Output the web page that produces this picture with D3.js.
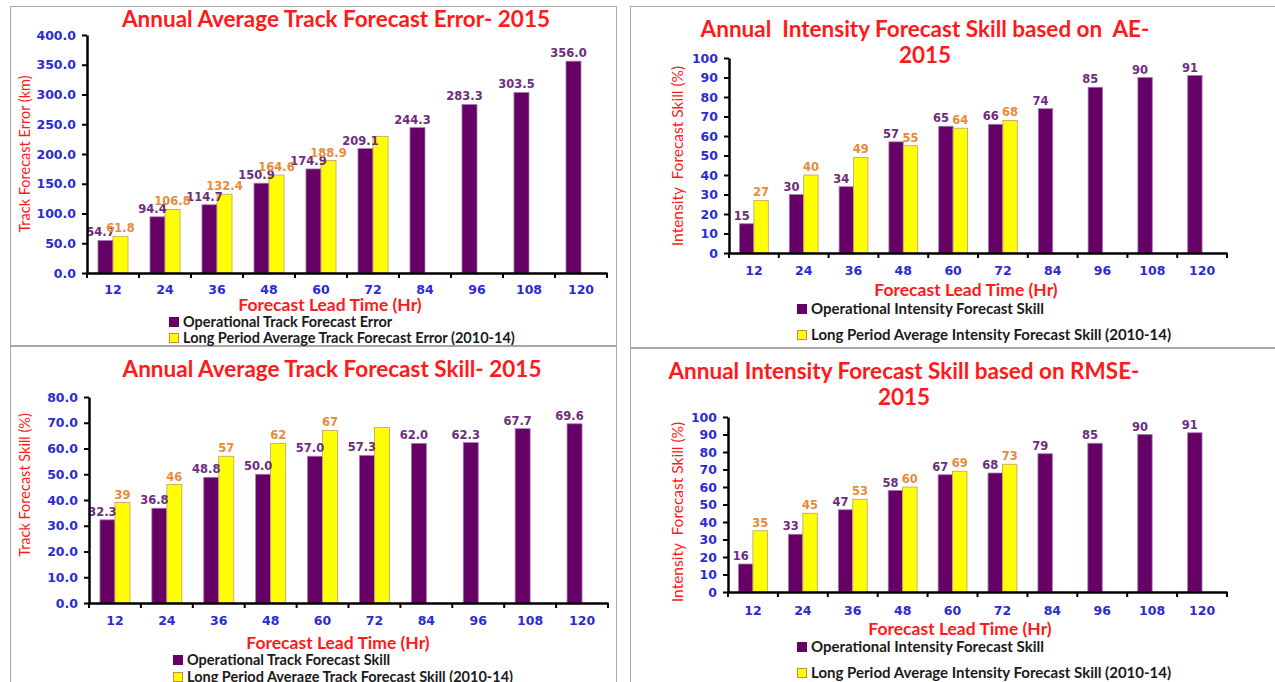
<!doctype html>
<html lang="en">
  <head>
    <meta charset="utf-8">
    <title>Cyclone forecast verification 2015</title>
    <style>
    body { margin: 0; background: #fff; }
    svg { display: block; }
    .axis path, .axis line { stroke: #000; }
    </style>
  </head>
  <body>
    <div id="content"></div>
    <script src="https://d3js.org/d3.v7.min.js"></script>
    <script type="text/javascript">
    var w = 1275;
    var h = 682;

    // lead times (hr)
    var leadTimes = ['12', '24', '36', '48', '60', '72', '84', '96', '108', '120'];

    // track forecast error (km)
    var errOp = [54.7, 94.4, 114.7, 150.9, 174.9, 209.1, 244.3, 283.3, 303.5, 356.0];
    var errLpa = [61.8, 106.8, 132.4, 164.6, 188.9, 229.7];
    var errLpaText = ['61.8', '106.8', '132.4', '164.6', '188.9', ''];
    var errTicks = [0, 50, 100, 150, 200, 250, 300, 350, 400];

    // intensity skill based on AE (%)
    var aeOp = [15, 30, 34, 57, 65, 66, 74, 85, 90, 91];
    var aeLpa = [27, 40, 49, 55, 64, 68];
    var aeLpaText = ['27', '40', '49', '55', '64', '68'];
    var pctTicks = [0, 10, 20, 30, 40, 50, 60, 70, 80, 90, 100];

    // track forecast skill (%)
    var tsOp = [32.3, 36.8, 48.8, 50.0, 57.0, 57.3, 62.0, 62.3, 67.7, 69.6];
    var tsLpa = [39, 46, 57, 62, 67, 68.2];
    var tsLpaText = ['39', '46', '57', '62', '67', ''];
    var tsTicks = [0, 10, 20, 30, 40, 50, 60, 70, 80];

    // intensity skill based on RMSE (%)
    var rmseOp = [16, 33, 47, 58, 67, 68, 79, 85, 90, 91];
    var rmseLpa = [35, 45, 53, 60, 69, 73];
    var rmseLpaText = ['35', '45', '53', '60', '69', '73'];

    var purple = '#660066';
    var yellow = '#ffff00';
    var red = '#ff1a1a';
    var blue = '#2b2bd6';
    var titleFont = 'Lato, "Open Sans", sans-serif';
    var numFont = '"DejaVu Sans", Verdana, sans-serif';

    var svg = d3.select('#content')
                .append('svg')
                .attr('width', w)
                .attr('height', h);

    // panel frames
    var frames = [
      {x: 10.5, y: 6.5, w: 606, h: 339},
      {x: 630.5, y: 6.5, w: 660, h: 341},
      {x: 10.5, y: 346.5, w: 606, h: 350},
      {x: 630.5, y: 348.5, w: 660, h: 350}
    ];
    svg.selectAll('rect.frame')
      .data(frames)
      .enter()
      .append('rect')
      .attr('class', 'frame')
      .attr('x', d => d.x)
      .attr('y', d => d.y)
      .attr('width', d => d.w)
      .attr('height', d => d.h)
      .attr('fill', 'none')
      .attr('stroke', '#a6a6a6');

    function panel(o) {
      var g = svg.append('g');

      var xScale = d3.scaleBand()
                     .domain(leadTimes)
                     .range([o.left, o.right]);

      var yScale = d3.scaleLinear()
                     .domain(o.domain)
                     .range([o.bottom, o.top]);

      var sub = d3.scaleBand()
                  .domain(['op', 'lpa'])
                  .range([0, xScale.bandwidth()])
                  .paddingOuter(0.73);

      // title
      o.title.forEach((t, i) => {
        g.append('text')
          .attr('x', o.titleX)
          .attr('y', o.titleY + i * 26)
          .attr('text-anchor', 'middle')
          .style('font-family', titleFont)
          .style('font-weight', 'bold')
          .style('font-size', '22.5px')
          .style('fill', red)
          .style('white-space', 'pre')
          .text(t);
      });

      // bars
      var opData = o.op.map((v, i) => ({c: leadTimes[i], v: v}));
      var lpaData = o.lpa.map((v, i) => ({c: leadTimes[i], v: v, t: o.lpaText[i]}));

      g.selectAll('rect.op')
        .data(opData)
        .enter()
        .append('rect')
        .attr('class', 'op')
        .attr('x', d => xScale(d.c) + sub('op'))
        .attr('y', d => yScale(d.v))
        .attr('width', sub.bandwidth())
        .attr('height', d => yScale(0) - yScale(d.v))
        .attr('fill', purple)
        .attr('stroke', '#a37fb0')
        .attr('stroke-width', 0.8);

      g.selectAll('rect.lpa')
        .data(lpaData)
        .enter()
        .append('rect')
        .attr('class', 'lpa')
        .attr('x', d => xScale(d.c) + sub('lpa'))
        .attr('y', d => yScale(d.v))
        .attr('width', sub.bandwidth())
        .attr('height', d => yScale(0) - yScale(d.v))
        .attr('fill', yellow)
        .attr('stroke', '#c49a6c')
        .attr('stroke-width', 0.8);

      // value labels
      g.selectAll('text.opv')
        .data(opData)
        .enter()
        .append('text')
        .attr('class', 'opv')
        .attr('x', d => xScale(d.c) + sub('op') + sub.bandwidth() / 2 - 5)
        .attr('y', d => yScale(d.v) - 4)
        .attr('text-anchor', 'middle')
        .style('font-family', numFont)
        .style('font-weight', 'bold')
        .style('font-size', '11.5px')
        .style('fill', '#6e2c7c')
        .text(d => o.opFormat(d.v));

      g.selectAll('text.lpav')
        .data(lpaData)
        .enter()
        .append('text')
        .attr('class', 'lpav')
        .attr('x', d => xScale(d.c) + sub('lpa') + sub.bandwidth() / 2)
        .attr('y', d => yScale(d.v) - 4)
        .attr('text-anchor', 'middle')
        .style('font-family', numFont)
        .style('font-weight', 'bold')
        .style('font-size', '11.5px')
        .style('fill', '#ea8a3a')
        .text(d => d.t);

      // y axis
      var yAxis = d3.axisLeft(yScale)
                    .tickValues(o.ticks)
                    .tickSize(5)
                    .tickSizeOuter(0)
                    .tickPadding(6)
                    .tickFormat(o.tickFormat);
      var ya = g.append('g')
        .attr('class', 'axis')
        .attr('transform', `translate(${o.left}, 0)`)
        .call(yAxis);
      ya.select('.domain').attr('stroke-width', 2.5);
      ya.selectAll('.tick line').attr('stroke-width', 2);
      ya.selectAll('text')
        .style('font-family', numFont)
        .style('font-weight', 'bold')
        .style('font-size', '12.5px')
        .style('fill', blue);

      // x axis: labels centred, ticks on category boundaries
      var xAxis = d3.axisBottom(xScale)
                    .tickSize(0)
                    .tickSizeOuter(0)
                    .tickPadding(o.xPad);
      var xa = g.append('g')
        .attr('class', 'axis')
        .attr('transform', `translate(0, ${o.bottom})`)
        .call(xAxis);
      xa.select('.domain').attr('stroke-width', 2.5);
      xa.selectAll('text')
        .style('font-family', numFont)
        .style('font-weight', 'bold')
        .style('font-size', '12.5px')
        .style('fill', blue);
      xa.selectAll('line.edge')
        .data(leadTimes.map(c => xScale(c)).concat([xScale.range()[1]]))
        .enter()
        .append('line')
        .attr('class', 'edge')
        .attr('x1', d => d)
        .attr('x2', d => d)
        .attr('y1', 0)
        .attr('y2', 5)
        .attr('stroke', '#000')
        .attr('stroke-width', 2);

      // axis titles
      g.append('text')
        .attr('x', o.xTitleX)
        .attr('y', o.xTitleY)
        .attr('text-anchor', 'middle')
        .style('font-family', titleFont)
        .style('font-weight', 'bold')
        .style('font-size', '17.5px')
        .style('fill', red)
        .text('Forecast Lead Time (Hr)');

      g.append('text')
        .attr('transform', `translate(${o.yTitleX}, ${o.yTitleY}) rotate(-90)`)
        .attr('text-anchor', 'middle')
        .style('font-family', titleFont)
        .style('font-size', o.yTitleSize)
        .style('fill', red)
        .style('white-space', 'pre')
        .text(o.yTitle);

      // legend
      var legend = [
        {name: o.legend[0], fill: purple, stroke: purple},
        {name: o.legend[1], fill: yellow, stroke: '#d08a3a'}
      ];
      var lg = g.selectAll('g.legend')
        .data(legend)
        .enter()
        .append('g')
        .attr('class', 'legend')
        .attr('transform', (d, i) => `translate(${o.legX}, ${o.legY + i * o.legGap})`);
      lg.append('rect')
        .attr('x', 0.5)
        .attr('y', -9.5)
        .attr('width', 9)
        .attr('height', 9)
        .attr('fill', d => d.fill)
        .attr('stroke', d => d.stroke);
      lg.append('text')
        .attr('x', 14)
        .attr('y', 0)
        .style('font-family', titleFont)
        .style('font-weight', 'bold')
        .style('font-size', o.legSize)
        .style('fill', '#1a1a1a')
        .text(d => d.name);
    }

    panel({
      left: 87, right: 607, top: 35, bottom: 273,
      domain: [0, 400], ticks: errTicks, tickFormat: d3.format('.1f'),
      op: errOp, lpa: errLpa, lpaText: errLpaText, opFormat: d3.format('.1f'),
      title: ['Annual Average Track Forecast Error- 2015'], titleX: 336, titleY: 27,
      xPad: 12, xTitleX: 330, xTitleY: 311,
      yTitle: 'Track Forecast Error (km)', yTitleX: 30, yTitleY: 154, yTitleSize: '14.5px',
      legend: ['Operational Track Forecast Error', 'Long Period Average Track Forecast Error (2010-14)'],
      legX: 169, legY: 327, legGap: 16, legSize: '14.5px'
    });

    panel({
      left: 729, right: 1227, top: 58, bottom: 253,
      domain: [0, 100], ticks: pctTicks, tickFormat: d3.format('d'),
      op: aeOp, lpa: aeLpa, lpaText: aeLpaText, opFormat: d3.format('d'),
      title: ['Annual  Intensity Forecast Skill based on  AE-', '2015'], titleX: 925, titleY: 37,
      xPad: 13, xTitleX: 966, xTitleY: 296,
      yTitle: 'Intensity  Forecast Skill (%)', yTitleX: 683, yTitleY: 156, yTitleSize: '15.5px',
      legend: ['Operational Intensity Forecast Skill', 'Long Period Average Intensity Forecast Skill (2010-14)'],
      legX: 797, legY: 314, legGap: 26, legSize: '15px'
    });

    panel({
      left: 89, right: 608, top: 397, bottom: 603,
      domain: [0, 80], ticks: tsTicks, tickFormat: d3.format('.1f'),
      op: tsOp, lpa: tsLpa, lpaText: tsLpaText, opFormat: d3.format('.1f'),
      title: ['Annual Average Track Forecast Skill- 2015'], titleX: 332, titleY: 377,
      xPad: 13, xTitleX: 338, xTitleY: 649,
      yTitle: 'Track Forecast Skill (%)', yTitleX: 30, yTitleY: 485, yTitleSize: '14.5px',
      legend: ['Operational Track Forecast Skill', 'Long Period Average Track Forecast Skill (2010-14)'],
      legX: 173, legY: 665, legGap: 17, legSize: '14.5px'
    });

    panel({
      left: 728, right: 1227, top: 417, bottom: 592,
      domain: [0, 100], ticks: pctTicks, tickFormat: d3.format('d'),
      op: rmseOp, lpa: rmseLpa, lpaText: rmseLpaText, opFormat: d3.format('d'),
      title: ['Annual Intensity Forecast Skill based on RMSE-', '2015'], titleX: 904, titleY: 379,
      xPad: 14, xTitleX: 960, xTitleY: 635,
      yTitle: 'Intensity  Forecast Skill (%)', yTitleX: 683, yTitleY: 512, yTitleSize: '15.5px',
      legend: ['Operational Intensity Forecast Skill', 'Long Period Average Intensity Forecast Skill (2010-14)'],
      legX: 797, legY: 652, legGap: 26, legSize: '15px'
    });
    </script>
  </body>
</html>
